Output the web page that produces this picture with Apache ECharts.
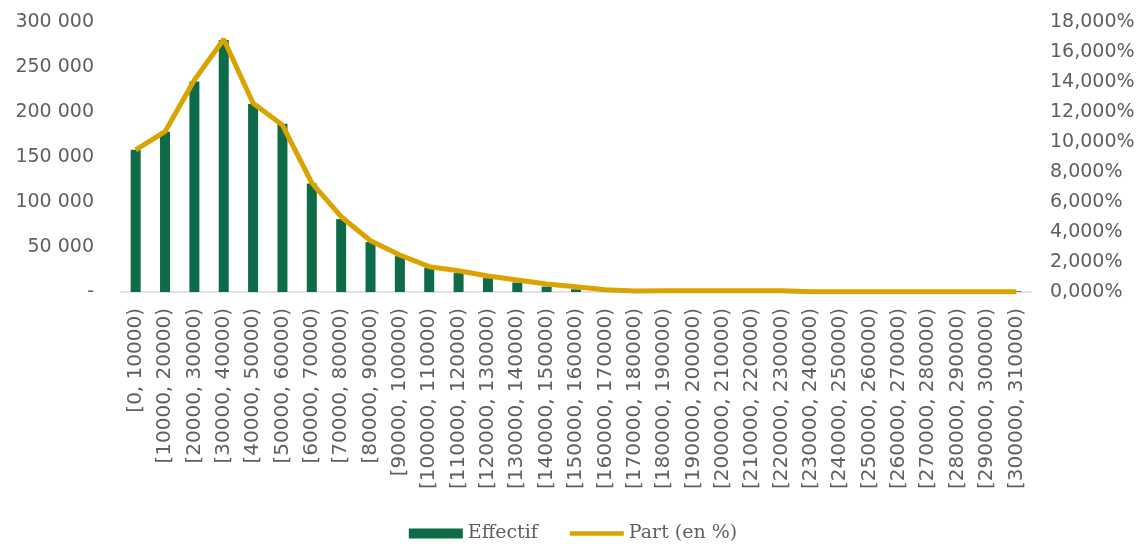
<!DOCTYPE html>
<html>
<head>
<meta charset="utf-8">
<script src="https://cdn.jsdelivr.net/npm/echarts@6/dist/echarts.min.js"></script>
<style>html,body{margin:0;padding:0;background:#fff}#c{width:1146px;height:544px}</style>
</head>
<body>
<div id="c"></div>
<script>
const categories = ["[0, 10000)","[10000, 20000)","[20000, 30000)","[30000, 40000)","[40000, 50000)","[50000, 60000)","[60000, 70000)","[70000, 80000)","[80000, 90000)","[90000, 100000)","[100000, 110000)","[110000, 120000)","[120000, 130000)","[130000, 140000)","[140000, 150000)","[150000, 160000)","[160000, 170000)","[170000, 180000)","[180000, 190000)","[190000, 200000)","[200000, 210000)","[210000, 220000)","[220000, 230000)","[230000, 240000)","[240000, 250000)","[250000, 260000)","[260000, 270000)","[270000, 280000)","[280000, 290000)","[290000, 300000)","[300000, 310000)"];
const effectif = [158000,178000,234000,280000,209000,187000,120500,81000,55500,39800,26700,21000,15400,10500,6000,3000,2500,1200,1300,1300,1300,1300,1200,400,200,150,100,100,100,100,800];
const partPct = [9.47,10.69,14.13,16.85,12.58,11.13,7.27,5.02,3.42,2.47,1.69,1.42,1.07,0.80,0.53,0.35,0.15,0.07,0.08,0.08,0.08,0.08,0.08,0.02,0.01,0.01,0.01,0.01,0.01,0.01,0.01];
const leftTicks = {min:0, max:300000, interval:50000};
const rightTicks = {min:0, max:18, interval:2};

const txt = '#5f5f5f';
const font = 'DejaVu Sans';
const chart = echarts.init(document.getElementById('c'));
chart.setOption({
  animation:false,
  grid:{left:121, right:115, top:22, bottom:252},
  legend:{
    bottom:-4, left:'center',
    itemWidth:54, itemHeight:10, itemGap:32,
    textStyle:{color:txt, fontFamily:'DejaVu Serif', fontSize:19},
    data:[{name:'Effectif', icon:'rect'},{name:'Part (en %)', icon:'path://M0,0H100V8H0Z'}]
  },
  xAxis:{
    type:'category', data:categories,
    axisLine:{lineStyle:{color:'#d9d9d9', width:1.5}},
    axisTick:{show:false},
    axisLabel:{rotate:90, interval:0, color:txt, fontFamily:font, fontSize:20, margin:16}
  },
  yAxis:[{
    type:'value', min:leftTicks.min, max:leftTicks.max, interval:leftTicks.interval,
    splitLine:{show:false}, axisLine:{show:false}, axisTick:{show:false},
    axisLabel:{color:txt, fontFamily:font, fontSize:19, margin:27,
      formatter:v => v===0 ? '-' : String(v).replace(/\B(?=(\d{3})+(?!\d))/g,' ')}
  },{
    type:'value', min:rightTicks.min, max:rightTicks.max, interval:rightTicks.interval,
    splitLine:{show:false}, axisLine:{show:false}, axisTick:{show:false},
    axisLabel:{color:txt, fontFamily:font, fontSize:19, margin:19, align:'left',
      formatter:v => v.toFixed(3).replace('.',',')+'%'}
  }],
  series:[{
    name:'Effectif', type:'bar', data:effectif, barWidth:10,
    itemStyle:{color:'#0e6b47'}
  },{
    name:'Part (en %)', type:'line', yAxisIndex:1, data:partPct,
    symbol:'none', lineStyle:{color:'#daa300', width:5}, itemStyle:{color:'#daa300'}, z:3
  }]
});
</script>
</body>
</html>
